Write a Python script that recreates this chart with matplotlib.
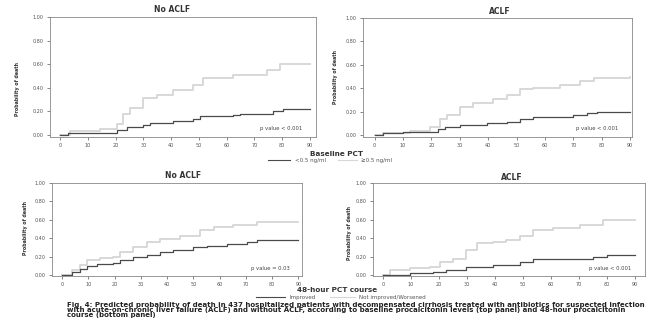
import numpy as np
import matplotlib
matplotlib.use("Agg")
import matplotlib.pyplot as plt
from matplotlib.lines import Line2D

# step points (days, probability of death)
# top panel: baseline PCT
tl_low_x = [0, 3, 15.6, 20.4, 24, 30, 32.4, 40.8, 48, 50.4, 62.4, 64.8, 76.8, 80.4, 90]
tl_low_y = [0, 0.02, 0.02, 0.04, 0.07, 0.085, 0.10, 0.12, 0.135, 0.16, 0.17, 0.18, 0.20, 0.22, 0.22]
tl_high_x = [0, 3.6, 14.4, 20.4, 22.8, 25.2, 30, 34.8, 40.8, 48, 51.6, 62.4, 74.4, 79.2, 90]
tl_high_y = [0, 0.03, 0.05, 0.09, 0.18, 0.225, 0.31, 0.34, 0.38, 0.42, 0.48, 0.51, 0.55, 0.60, 0.60]

tr_low_x = [0, 2.9, 10, 15.9, 22.4, 24.7, 30, 39.4, 46.5, 51.2, 55.9, 70, 74.7, 78.2, 90]
tr_low_y = [0, 0.015, 0.023, 0.029, 0.05, 0.066, 0.085, 0.10, 0.11, 0.14, 0.157, 0.17, 0.186, 0.20, 0.20]
tr_high_x = [0, 2.9, 12.4, 19.4, 22.9, 25.3, 30, 34.7, 41.8, 46.5, 51.2, 55.9, 65.3, 72.4, 77.1, 90]
tr_high_y = [0, 0.02, 0.037, 0.07, 0.14, 0.17, 0.24, 0.27, 0.31, 0.34, 0.39, 0.40, 0.43, 0.46, 0.49, 0.50]

# bottom panel: 48-hour PCT course
bl_imp_x = [0, 3.8, 7, 9.5, 13.3, 19.6, 22.2, 27.2, 32.3, 37.4, 42.4, 50, 55.1, 62.7, 70.3, 74.2, 90]
bl_imp_y = [0, 0.036, 0.07, 0.10, 0.12, 0.13, 0.16, 0.20, 0.22, 0.25, 0.27, 0.30, 0.32, 0.34, 0.36, 0.38, 0.38]
bl_not_x = [0, 3.8, 7, 9.5, 14.6, 19.6, 22.2, 27.2, 32.3, 37.4, 45, 52.6, 57.7, 65.3, 74.2, 90]
bl_not_y = [0, 0.054, 0.11, 0.16, 0.19, 0.20, 0.25, 0.31, 0.36, 0.39, 0.42, 0.49, 0.52, 0.54, 0.58, 0.58]

br_imp_x = [0, 9.5, 17.9, 22.6, 29.8, 39.3, 48.9, 53.6, 65.6, 75.1, 79.9, 90]
br_imp_y = [0, 0.02, 0.036, 0.055, 0.09, 0.11, 0.145, 0.175, 0.18, 0.20, 0.22, 0.22]
br_not_x = [0, 2.4, 9.5, 16.7, 20.3, 25, 29.8, 33.4, 39.3, 44.1, 48.9, 53.6, 60.8, 70.3, 78.7, 90]
br_not_y = [0, 0.055, 0.073, 0.09, 0.145, 0.18, 0.27, 0.345, 0.36, 0.38, 0.42, 0.49, 0.51, 0.545, 0.60, 0.60]

dark = "#4a4a4a"
light = "#d6d6d6"
W, H = 649, 322

fig = plt.figure(figsize=(6.49, 3.22), dpi=100)


def px_axes(l, t, r, b):
    return fig.add_axes([l / W, 1 - b / H, (r - l) / W, (b - t) / H])


def panel(ax, x1, y1, x2, y2, xlim, ylim, ptxt):
    ax.step(x2, y2, where="post", color=light, lw=1.3)
    ax.step(x1, y1, where="post", color=dark, lw=0.9)
    ax.set_xlim(*xlim)
    ax.set_ylim(*ylim)
    ax.set_xticks(np.arange(0, 91, 10))
    ax.set_yticks(np.arange(0, 1.01, 0.2))
    ax.set_yticklabels(["%.2f" % v for v in np.arange(0, 1.01, 0.2)])
    ax.tick_params(labelsize=3.5, length=2, width=0.5, pad=2.5, colors="#555555")
    for s in ax.spines.values():
        s.set_color("#888888")
        s.set_linewidth(0.6)
    ax.text(0.95, 0.05, ptxt, transform=ax.transAxes, ha="right", va="bottom",
            fontsize=3.8, color="#444444")


ax1 = px_axes(50, 17, 316, 137)
panel(ax1, tl_low_x, tl_low_y, tl_high_x, tl_high_y, (-3.6, 92.2), (-0.017, 1.0), "p value < 0.001")
ax2 = px_axes(363, 18, 632, 137)
panel(ax2, tr_low_x, tr_low_y, tr_high_x, tr_high_y, (-4.1, 90.6), (-0.017, 1.0), "p value < 0.001")
ax3 = px_axes(52, 183, 302, 276)
panel(ax3, bl_imp_x, bl_imp_y, bl_not_x, bl_not_y, (-3.8, 91.4), (-0.01, 1.0), "p value = 0.03")
ax4 = px_axes(373, 183, 645, 276)
panel(ax4, br_imp_x, br_imp_y, br_not_x, br_not_y, (-3.6, 93.6), (-0.01, 1.0), "p value < 0.001")

# titles and y labels
for txt, x, y in [("No ACLF", 172, 10), ("ACLF", 500, 11), ("No ACLF", 183, 175), ("ACLF", 512, 177)]:
    fig.text(x / W, 1 - y / H, txt, ha="center", va="center", fontsize=5.5, fontweight="bold", color="#333333")
for x, y in [(17, 89), (335, 77), (25, 228), (350, 233)]:
    fig.text(x / W, 1 - y / H, "Probability of death", rotation=90, ha="center", va="center",
             fontsize=3.4, fontweight="bold", color="#333333")


# legends
def legend(title, ty, entries, ey):
    fig.text(337 / W, 1 - ty / H, title, ha="center", va="center", fontsize=5.2, fontweight="bold", color="#333333")
    for x0, x1, col, lab, tx in entries:
        fig.add_artist(Line2D([x0 / W, x1 / W], [1 - ey / H, 1 - ey / H], color=col, lw=0.8))
        fig.text(tx / W, 1 - ey / H, lab, ha="left", va="center", fontsize=4, color="#555555")


legend("Baseline PCT", 154, [(268, 290, dark, "<0.5 ng/ml", 295), (338, 357, light, "\u22650.5 ng/ml", 361)], 160)
legend("48-hour PCT course", 290, [(256, 285, dark, "Improved", 289), (330, 355, light, "Not improved/Worsened", 359)], 297)

caption = ["Fig. 4: Predicted probability of death in 437 hospitalized patients with decompensated cirrhosis treated with antibiotics for suspected infection",
           "with acute-on-chronic liver failure (ACLF) and without ACLF, according to baseline procalcitonin levels (top panel) and 48-hour procalcitonin",
           "course (bottom panel)"]
for i, line in enumerate(caption):
    fig.text(67 / W, 1 - (305 + 5 * i) / H, line, ha="left", va="center", fontsize=5.0,
             fontweight="bold", color="#222222")

fig.savefig("out.png", dpi=100)
